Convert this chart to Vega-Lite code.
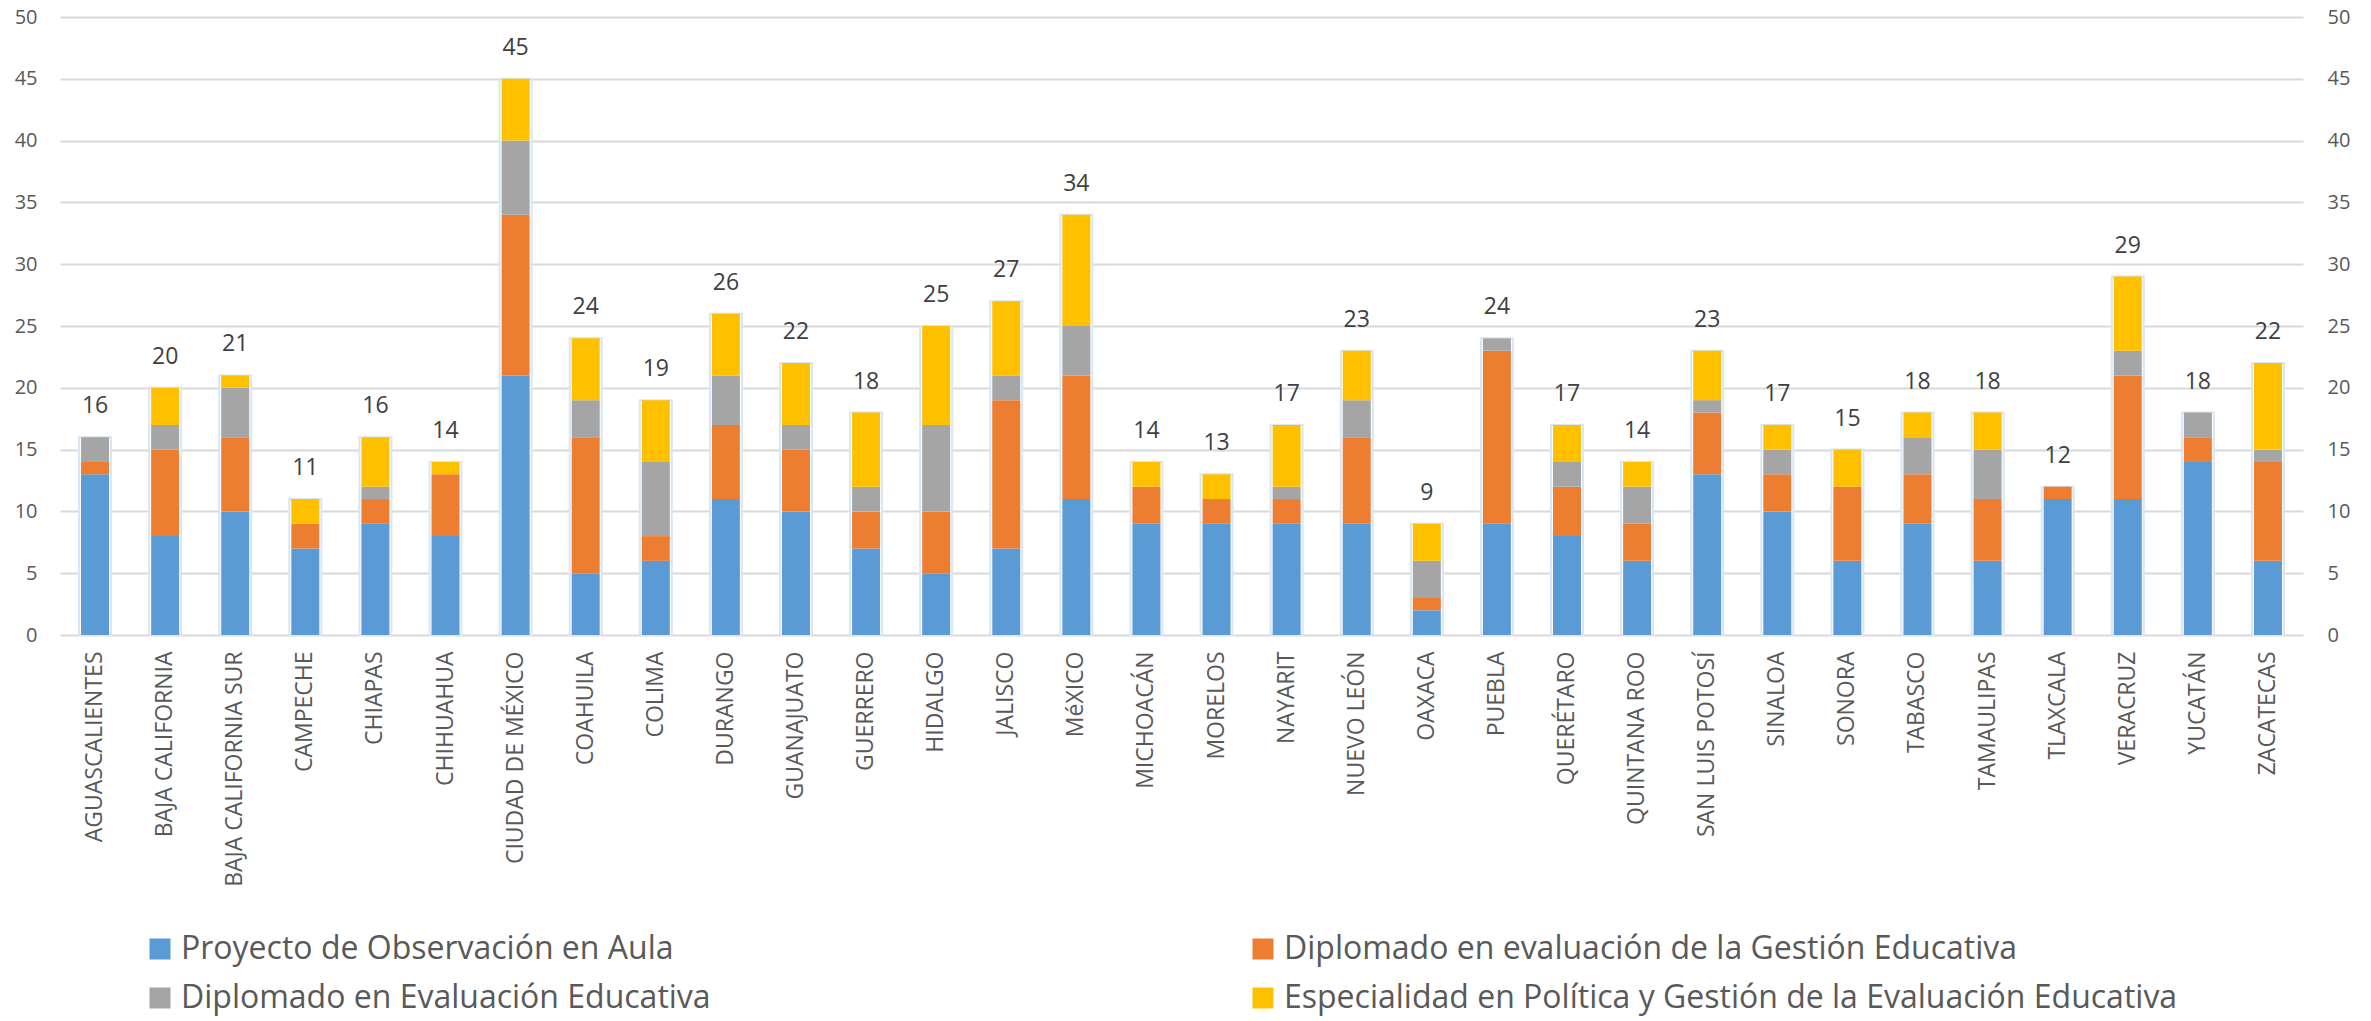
{
  "$schema": "https://vega.github.io/schema/vega-lite/v6.json",
  "autosize": "none",
  "width": 2243,
  "height": 618,
  "padding": {"left": 60, "top": 17, "right": 68, "bottom": 386},
  "background": "white",
  "config": {
    "view": {"stroke": null},
    "font": "Open Sans"
  },
  "data": {
    "values": [
      {"estado": "AGUASCALIENTES", "a": 13, "b": 1, "c": 2, "d": 0, "total": 16},
      {"estado": "BAJA CALIFORNIA", "a": 8, "b": 7, "c": 2, "d": 3, "total": 20},
      {"estado": "BAJA CALIFORNIA SUR", "a": 10, "b": 6, "c": 4, "d": 1, "total": 21},
      {"estado": "CAMPECHE", "a": 7, "b": 2, "c": 0, "d": 2, "total": 11},
      {"estado": "CHIAPAS", "a": 9, "b": 2, "c": 1, "d": 4, "total": 16},
      {"estado": "CHIHUAHUA", "a": 8, "b": 5, "c": 0, "d": 1, "total": 14},
      {"estado": "CIUDAD DE MÉXICO", "a": 21, "b": 13, "c": 6, "d": 5, "total": 45},
      {"estado": "COAHUILA", "a": 5, "b": 11, "c": 3, "d": 5, "total": 24},
      {"estado": "COLIMA", "a": 6, "b": 2, "c": 6, "d": 5, "total": 19},
      {"estado": "DURANGO", "a": 11, "b": 6, "c": 4, "d": 5, "total": 26},
      {"estado": "GUANAJUATO", "a": 10, "b": 5, "c": 2, "d": 5, "total": 22},
      {"estado": "GUERRERO", "a": 7, "b": 3, "c": 2, "d": 6, "total": 18},
      {"estado": "HIDALGO", "a": 5, "b": 5, "c": 7, "d": 8, "total": 25},
      {"estado": "JALISCO", "a": 7, "b": 12, "c": 2, "d": 6, "total": 27},
      {"estado": "MéXICO", "a": 11, "b": 10, "c": 4, "d": 9, "total": 34},
      {"estado": "MICHOACÁN", "a": 9, "b": 3, "c": 0, "d": 2, "total": 14},
      {"estado": "MORELOS", "a": 9, "b": 2, "c": 0, "d": 2, "total": 13},
      {"estado": "NAYARIT", "a": 9, "b": 2, "c": 1, "d": 5, "total": 17},
      {"estado": "NUEVO LEÓN", "a": 9, "b": 7, "c": 3, "d": 4, "total": 23},
      {"estado": "OAXACA", "a": 2, "b": 1, "c": 3, "d": 3, "total": 9},
      {"estado": "PUEBLA", "a": 9, "b": 14, "c": 1, "d": 0, "total": 24},
      {"estado": "QUERÉTARO", "a": 8, "b": 4, "c": 2, "d": 3, "total": 17},
      {"estado": "QUINTANA ROO", "a": 6, "b": 3, "c": 3, "d": 2, "total": 14},
      {"estado": "SAN LUIS POTOSÍ", "a": 13, "b": 5, "c": 1, "d": 4, "total": 23},
      {"estado": "SINALOA", "a": 10, "b": 3, "c": 2, "d": 2, "total": 17},
      {"estado": "SONORA", "a": 6, "b": 6, "c": 0, "d": 3, "total": 15},
      {"estado": "TABASCO", "a": 9, "b": 4, "c": 3, "d": 2, "total": 18},
      {"estado": "TAMAULIPAS", "a": 6, "b": 5, "c": 4, "d": 3, "total": 18},
      {"estado": "TLAXCALA", "a": 11, "b": 1, "c": 0, "d": 0, "total": 12},
      {"estado": "VERACRUZ", "a": 11, "b": 10, "c": 2, "d": 6, "total": 29},
      {"estado": "YUCATÁN", "a": 14, "b": 2, "c": 2, "d": 0, "total": 18},
      {"estado": "ZACATECAS", "a": 6, "b": 8, "c": 1, "d": 7, "total": 22}
    ]
  },
  "encoding": {
    "x": {
      "field": "estado",
      "type": "nominal",
      "sort": null,
      "title": null,
      "scale": {"paddingInner": 0, "paddingOuter": 0},
      "axis": {
        "labelAngle": -90,
        "labelFont": "Open Sans",
        "labelFontSize": 23,
        "labelColor": "#595959",
        "labelPadding": 16,
        "labelLimit": 400,
        "ticks": false,
        "domain": false,
        "grid": false
      }
    }
  },
  "layer": [
    {
      "mark": {"type": "bar", "size": 32, "fill": "white", "stroke": "#d9e6f3", "strokeWidth": 2},
      "encoding": {
        "y": {
          "field": "total",
          "type": "quantitative",
          "title": null,
          "scale": {"domain": [0, 50], "nice": false},
          "axis": {
            "orient": "left",
            "values": [0, 5, 10, 15, 20, 25, 30, 35, 40, 45, 50],
            "grid": true,
            "gridColor": "#d9d9d9",
            "gridWidth": 2,
            "domain": false,
            "ticks": false,
            "labelFont": "Open Sans",
            "labelFontSize": 20,
            "labelColor": "#595959",
            "labelPadding": 23
          }
        }
      }
    },
    {
      "transform": [{"fold": ["a", "b", "c", "d"], "as": ["serie", "n"]}],
      "mark": {"type": "bar", "size": 28},
      "encoding": {
        "y": {
          "field": "n",
          "type": "quantitative",
          "stack": "zero",
          "title": null,
          "scale": {"domain": [0, 50], "nice": false},
          "axis": null
        },
        "order": {"field": "serie", "sort": "ascending"},
        "color": {
          "field": "serie",
          "type": "nominal",
          "scale": {"domain": ["a", "b", "c", "d"], "range": ["#5b9bd5", "#ed7d31", "#a5a5a5", "#ffc000"]},
          "legend": {
            "orient": "none",
            "legendX": 84,
            "legendY": 916,
            "direction": "horizontal",
            "columns": 2,
            "columnPadding": 536,
            "rowPadding": 17,
            "padding": 0,
            "title": null,
            "symbolType": "square",
            "symbolSize": 441,
            "symbolStrokeWidth": 0,
            "labelFont": "Open Sans",
            "labelFontSize": 32,
            "labelColor": "#595959",
            "labelOffset": 5,
            "labelLimit": 1200,
            "labelExpr": "datum.value == 'a' ? 'Proyecto de Observación en Aula' : datum.value == 'b' ? 'Diplomado en evaluación de la Gestión Educativa' : datum.value == 'c' ? 'Diplomado en Evaluación Educativa' : 'Especialidad en Política y Gestión de la Evaluación Educativa'"
          }
        }
      }
    },
    {
      "mark": {"type": "text", "dy": -31, "baseline": "middle", "font": "Open Sans", "fontSize": 23, "color": "#404040"},
      "encoding": {
        "y": {
          "field": "total",
          "type": "quantitative",
          "title": null,
          "scale": {"domain": [0, 50], "nice": false},
          "axis": {
            "orient": "right",
            "values": [0, 5, 10, 15, 20, 25, 30, 35, 40, 45, 50],
            "grid": false,
            "domain": false,
            "ticks": false,
            "labelFont": "Open Sans",
            "labelFontSize": 20,
            "labelColor": "#595959",
            "labelPadding": 24
          }
        },
        "text": {"field": "total", "type": "quantitative"}
      }
    }
  ],
  "resolve": {"axis": {"y": "independent"}}
}
